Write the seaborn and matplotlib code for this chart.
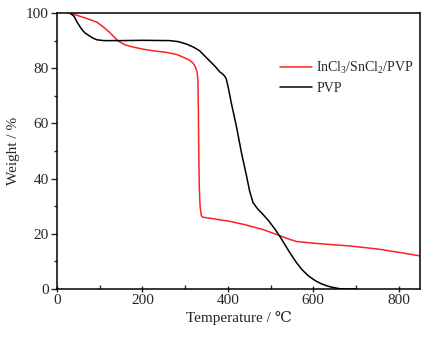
import matplotlib
matplotlib.use("Agg")
import matplotlib.pyplot as plt
from matplotlib.ticker import MultipleLocator
import seaborn as sns
import pandas as pd

# InCl3/SnCl2/PVP (red)
temp_mix = [30, 50, 70, 93, 108, 123, 142, 160, 180, 201, 230, 257, 280, 295,
            308, 318, 324, 328, 330, 331, 332, 333, 335, 338, 342, 360, 380, 405,
            440, 483, 522, 545, 561, 580, 600, 650, 685, 750, 800, 850]
weight_mix = [100, 99, 98, 96.7, 95, 93, 90, 88.4, 87.6, 86.9, 86.2, 85.7, 85, 84,
              83.1, 82, 80.5, 78.5, 76, 65, 50, 38, 30, 26.5, 26, 25.6, 25.1, 24.5,
              23.3, 21.5, 19.3, 18.0, 17.2, 16.9, 16.6, 16.0, 15.6, 14.5, 13.3, 12]

# PVP (black)
temp_pvp = [30, 40, 47, 54, 61, 67, 73, 83, 93, 110, 150, 200, 264, 285, 304, 320,
            334, 350, 370, 381, 390, 396, 401, 408, 420, 432, 444, 451, 459, 470, 483,
            494, 510, 522, 532, 545, 561, 575, 590, 605, 620, 639, 662, 700]
weight_pvp = [100, 98.8, 96.7, 95, 93.5, 92.6, 92, 91, 90.3, 90, 90, 90.1, 90, 89.6, 88.7, 87.6,
              86.3, 83.8, 80.7, 78.7, 77.6, 76.3, 73, 67.5, 59, 49.3, 40.8, 35.5, 31.3, 29, 26.9,
              25, 21.8, 19, 16.5, 13.2, 9.5, 6.8, 4.6, 3.0, 1.8, 0.8, 0.1, 0]

labels = ["InCl$_3$/SnCl$_2$/PVP", "PVP"]
colors = ["#ff2020", "#000000"]

df = pd.concat([
    pd.DataFrame({"T": temp_mix, "W": weight_mix, "s": labels[0]}),
    pd.DataFrame({"T": temp_pvp, "W": weight_pvp, "s": labels[1]}),
])

sns.set_theme(style="ticks")
plt.rcParams["font.family"] = ["Liberation Serif", "DejaVu Serif"]
plt.rcParams["mathtext.fontset"] = "custom"
plt.rcParams["mathtext.rm"] = "Liberation Serif"
plt.rcParams["mathtext.it"] = "Liberation Serif"

fig = plt.figure(figsize=(4.29, 3.38), dpi=100)
ax = fig.add_axes([57 / 429, 1 - 289 / 338, (420 - 57) / 429, (289 - 13) / 338])

sns.lineplot(data=df, x="T", y="W", hue="s", palette=dict(zip(labels, colors)),
             sort=False, estimator=None, linewidth=1.1, ax=ax)

ax.set_xlim(0, 850)
ax.set_ylim(0, 100)
ax.xaxis.set_major_locator(MultipleLocator(200))
ax.xaxis.set_minor_locator(MultipleLocator(100))
ax.yaxis.set_major_locator(MultipleLocator(20))
ax.yaxis.set_minor_locator(MultipleLocator(10))
ax.tick_params(axis="y", which="major", direction="out", length=4, width=1, labelsize=11, pad=2)
ax.tick_params(axis="y", which="minor", direction="out", length=2.5, width=1)
ax.tick_params(axis="x", which="major", direction="inout", length=5, width=1, labelsize=11, pad=1)
ax.tick_params(axis="x", which="minor", direction="in", length=3, width=1)
for sp in ax.spines.values():
    sp.set_visible(True)
    sp.set_linewidth(1.1)
    sp.set_color("black")

ax.set_xlabel("Temperature / ℃", fontsize=11, labelpad=3)
ax.set_ylabel("Weight / %", fontsize=11, labelpad=4)

leg = ax.legend(loc="upper left", bbox_to_anchor=(0.6, 0.85), frameon=False,
                fontsize=10, handlelength=2.3, handletextpad=0.3,
                labelspacing=0.45, borderaxespad=0)

fig.savefig("out.png", dpi=100)
